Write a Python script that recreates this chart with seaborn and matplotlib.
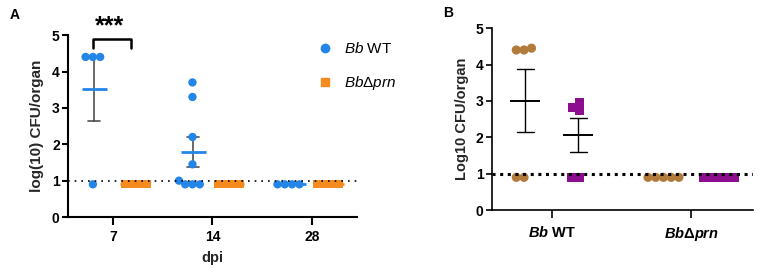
import matplotlib

matplotlib.use("Agg")
import matplotlib.pyplot as plt
import pandas as pd
import seaborn as sns
from matplotlib.collections import PathCollection
from matplotlib.lines import Line2D

# Panel A: log10 CFU per organ, by days post infection
DPI_LEVELS = ["7", "14", "28"]
STRAINS = ["Bb WT", "BbΔprn"]
WT_VALUES = {
    "7": [4.4, 4.4, 4.4, 0.9],
    "14": [3.7, 3.3, 2.2, 1.45, 1.0, 0.9, 0.9, 0.9],
    "28": [0.9, 0.9, 0.9, 0.9],
}
PRN_VALUES = {
    "7": [0.9, 0.9, 0.9, 0.9],
    "14": [0.9, 0.9, 0.9, 0.9],
    "28": [0.9, 0.9, 0.9, 0.9],
}
A_LEGEND_LABELS = [r"$\it{Bb}$ WT", r"$\it{Bb}$Δ$\it{prn}$"]

# Panel B: two series per strain
B_GROUPS = ["Bb WT", "BbΔprn"]
B_SERIES = ["circles", "squares"]
CIRCLE_VALUES = {
    "Bb WT": [4.45, 4.4, 4.4, 0.9, 0.9],
    "BbΔprn": [0.9, 0.9, 0.9, 0.9, 0.9],
}
SQUARE_VALUES = {
    "Bb WT": [2.83, 2.95, 2.73, 0.9, 0.9],
    "BbΔprn": [0.9, 0.9, 0.9, 0.9, 0.9],
}
B_TICK_LABELS = [r"$\mathbfit{Bb}$ WT", r"$\mathbfit{Bb}$Δ$\mathbfit{prn}$"]

LIMIT_OF_DETECTION = 1.0

A_COLORS = {"Bb WT": "#2385e8", "BbΔprn": "#f58a1f"}
B_COLORS = {"circles": "#b27b3c", "squares": "#8c0d8e"}


def long_frame(first: dict, second: dict, names: list[str], key: str, group: str) -> pd.DataFrame:
    rows = []
    for name, values in zip(names, [first, second]):
        for level, vals in values.items():
            for v in vals:
                rows.append({key: level, group: name, "log_cfu": v})
    return pd.DataFrame(rows)


def style_axes(ax, spine_width: float) -> None:
    sns.despine(ax=ax)
    for side in ["left", "bottom"]:
        ax.spines[side].set_linewidth(spine_width)
    ax.tick_params(width=spine_width, length=4, labelsize=10, pad=2)
    ax.tick_params(axis="x", length=5.5, pad=4)
    for label in ax.get_xticklabels() + ax.get_yticklabels():
        label.set_fontweight("bold")
    ax.set_ylim(0, 5)
    ax.set_yticks([0, 1, 2, 3, 4, 5])


def draw_group_stats(ax, data, x, hue, order, hue_order, palette, err_palette,
                     err_lw, mean_lw, mean_size):
    # whiskers (mean +/- SEM)
    sns.pointplot(
        data=data, x=x, y="log_cfu", hue=hue, order=order, hue_order=hue_order,
        palette=err_palette, dodge=0.38, errorbar="se", capsize=0.12,
        linestyle="none", markersize=0, err_kws={"linewidth": err_lw, "zorder": 2},
        legend=False, ax=ax,
    )
    # mean line
    sns.pointplot(
        data=data, x=x, y="log_cfu", hue=hue, order=order, hue_order=hue_order,
        palette=palette, dodge=0.38, errorbar=None, markers="_",
        markersize=mean_size, markeredgewidth=mean_lw, linestyle="none",
        legend=False, ax=ax, zorder=2,
    )


def swarm(ax, data, x, hue, order, hue_order, palette, marker, layout_size):
    sns.swarmplot(
        data=data, x=x, y="log_cfu", hue=hue, order=order, hue_order=hue_order,
        palette=palette, dodge=True, marker=marker, size=layout_size, linewidth=0,
        legend=False, ax=ax, zorder=3,
    )


def enlarge_swarms(fig, axes_sizes) -> None:
    # seaborn lays the swarm out at draw time; freeze that layout, then draw the
    # markers a bit larger so neighbouring points overlap as in the original
    fig.canvas.draw()
    for ax, shown_size in axes_sizes:
        for coll in ax.collections:
            if isinstance(coll, PathCollection) and "draw" in coll.__dict__:
                del coll.draw
                coll.set_sizes([shown_size ** 2])


def panel_a(ax) -> None:
    df = long_frame(WT_VALUES, PRN_VALUES, STRAINS, "dpi", "strain")
    draw_group_stats(ax, df, "dpi", "strain", DPI_LEVELS, STRAINS, A_COLORS,
                     {s: "#505050" for s in STRAINS}, 1.2, 2.0, 18)
    for strain, marker in zip(STRAINS, ["o", "s"]):
        swarm(ax, df[df["strain"] == strain], "dpi", "strain", DPI_LEVELS, STRAINS,
              A_COLORS, marker, 5.0)
    ax.axhline(LIMIT_OF_DETECTION, color="black", linestyle=(0, (1, 3)), linewidth=1.2, zorder=4)
    ax.set_xlim(-0.45, 2.45)
    style_axes(ax, 1.5)
    ax.set_xlabel("dpi", fontsize=10.5, fontweight="bold", labelpad=5)
    ax.set_ylabel("log(10) CFU/organ", fontsize=11, fontweight="bold", labelpad=6)

    # significance bracket at day 7
    ax.plot([-0.2, -0.2, 0.18, 0.18], [4.64, 4.89, 4.89, 4.64], color="black",
            linewidth=1.8, clip_on=False)
    ax.text(-0.03, 5.25, "***", ha="center", va="center", fontsize=18,
            fontweight="bold", clip_on=False)

    handles = [
        Line2D([], [], marker="o", linestyle="none", color=A_COLORS[STRAINS[0]], markersize=6),
        Line2D([], [], marker="s", linestyle="none", color=A_COLORS[STRAINS[1]], markersize=6),
    ]
    ax.figure.legend(
        handles, A_LEGEND_LABELS, loc="upper left", bbox_to_anchor=(0.41, 0.87),
        frameon=False, fontsize=11, labelspacing=1.2, handletextpad=0.8,
        handlelength=1.0, borderaxespad=0,
    )


def panel_b(ax) -> None:
    df = long_frame(CIRCLE_VALUES, SQUARE_VALUES, B_SERIES, "strain", "series")
    draw_group_stats(ax, df, "strain", "series", B_GROUPS, B_SERIES,
                     {s: "black" for s in B_SERIES}, {s: "black" for s in B_SERIES},
                     1.0, 1.4, 22)
    for series, marker in zip(B_SERIES, ["o", "s"]):
        swarm(ax, df[df["series"] == series], "strain", "series", B_GROUPS, B_SERIES,
              B_COLORS, marker, 5.3)
    ax.axhline(LIMIT_OF_DETECTION, color="black", linestyle=(0, (1, 1.5)), linewidth=2.2, zorder=4)
    ax.set_xlim(-0.43, 1.44)
    ax.set_xticks(range(len(B_GROUPS)))
    ax.set_xticklabels(B_TICK_LABELS)
    style_axes(ax, 1.2)
    ax.tick_params(axis="x", labelsize=10.5, pad=5)
    ax.set_xlabel("")
    ax.set_ylabel("Log10 CFU/organ", fontsize=10.5, fontweight="bold", labelpad=5)


def main() -> None:
    sns.set_theme(style="ticks")
    plt.rcParams["font.family"] = ["Liberation Sans", "DejaVu Sans"]
    plt.rcParams["mathtext.fontset"] = "custom"
    plt.rcParams["mathtext.rm"] = "Liberation Sans"
    plt.rcParams["mathtext.it"] = "Liberation Sans:italic"
    plt.rcParams["mathtext.bf"] = "Liberation Sans:bold"
    plt.rcParams["mathtext.bfit"] = "Liberation Sans:italic:bold"
    plt.rcParams["text.color"] = "black"
    plt.rcParams["xtick.color"] = "black"
    plt.rcParams["ytick.color"] = "black"
    plt.rcParams["axes.edgecolor"] = "black"

    fig = plt.figure(figsize=(7.58, 2.68), dpi=100)
    ax_a = fig.add_axes([0.0897, 0.190, 0.381, 0.679])
    ax_b = fig.add_axes([0.649, 0.216, 0.344, 0.679])
    panel_a(ax_a)
    panel_b(ax_b)

    fig.text(0.013, 0.93, "A", fontsize=10, fontweight="bold")
    fig.text(0.584, 0.935, "B", fontsize=10, fontweight="bold")
    enlarge_swarms(fig, [(ax_a, 6.0), (ax_b, 6.6)])
    fig.savefig("out.png", dpi=100)
    plt.close(fig)


if __name__ == "__main__":
    main()
